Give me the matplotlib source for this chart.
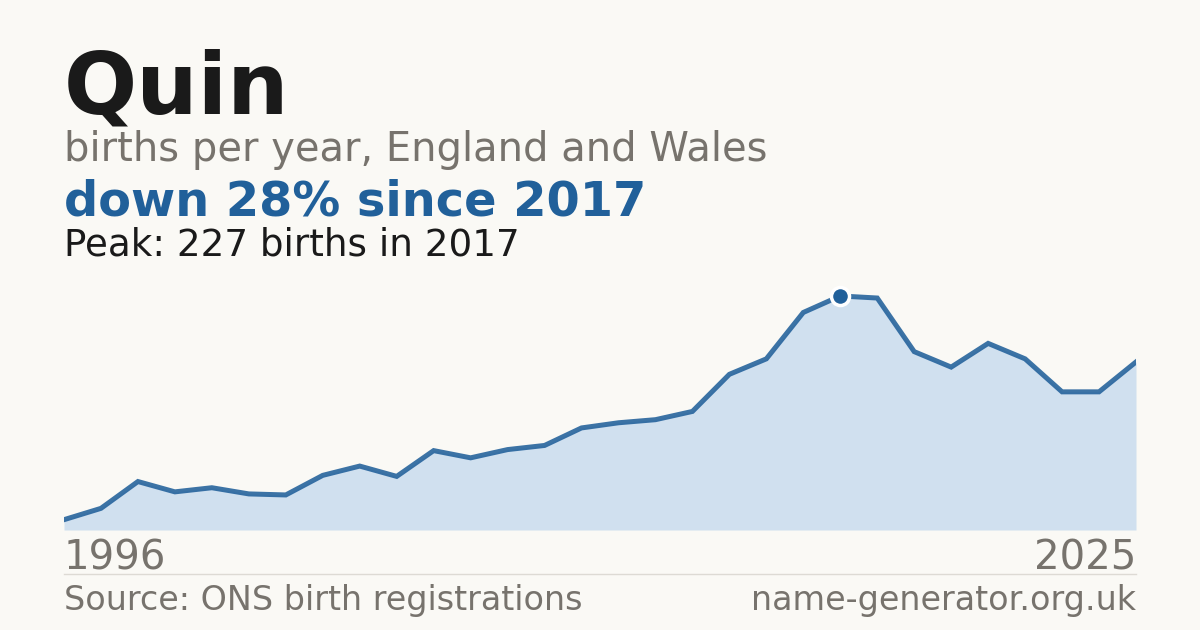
import numpy as np
import matplotlib.pyplot as plt

# births per year for "Quin", England and Wales
years = list(range(1996, 2026))
births = [10, 21, 47, 37, 41, 35, 34, 53, 62, 52,
          77, 70, 78, 82, 99, 104, 107, 115, 151, 166,
          211, 227, 225, 173, 158, 181, 166, 134, 134, 163]

peak_year = 2017
peak_value = 227

bg = '#faf9f5'
blue = '#21609a'
fill = '#d0e0ef'
grey = '#77736d'

fig = plt.figure(figsize=(12, 6.3), dpi=100, facecolor=bg)

# plot area: x 64..1136 px, y 270..530 px
ax = fig.add_axes([64 / 1200, 1 - 530 / 630, 1072 / 1200, 260 / 630])
ax.set_facecolor(bg)
ax.fill_between(years, births, 0, color=fill, lw=0)
ax.plot(years, births, color=blue, lw=3.6, solid_joinstyle='miter', alpha=0.88)
ax.plot([peak_year], [peak_value], 'o', ms=13, color=blue,
        markeredgecolor='white', markeredgewidth=2.5, zorder=5)
ax.set_xlim(years[0], years[-1])
ax.set_ylim(0, 260 / 1.031)
ax.axis('off')

# texts
fig.text(64 / 1200, 1 - 113 / 630, 'Quin', fontsize=62, fontweight='bold',
         color='#1a1a1a', ha='left', va='baseline')
fig.text(64 / 1200, 1 - 161 / 630, 'births per year, England and Wales',
         fontsize=28.8, color=grey, ha='left', va='baseline')
fig.text(64 / 1200, 1 - 215 / 630, 'down 28% since 2017', fontsize=34.5,
         fontweight='bold', color=blue, ha='left', va='baseline')
fig.text(64 / 1200, 1 - 255 / 630, 'Peak: 227 births in 2017', fontsize=26.8,
         color='#1a1a1a', ha='left', va='baseline')

fig.text(64 / 1200, 1 - 570 / 630, str(years[0]), fontsize=29, color=grey,
         ha='left', va='baseline')
fig.text(1136 / 1200, 1 - 570 / 630, str(years[-1]), fontsize=29, color=grey,
         ha='right', va='baseline')

fig.add_artist(plt.Line2D([64 / 1200, 1136 / 1200], [1 - 574 / 630, 1 - 574 / 630],
                          color='#dddad4', lw=1))

fig.text(64 / 1200, 1 - 610 / 630, 'Source: ONS birth registrations', fontsize=24,
         color=grey, ha='left', va='baseline')
fig.text(1136 / 1200, 1 - 610 / 630, 'name-generator.org.uk', fontsize=24,
         color=grey, ha='right', va='baseline')

fig.savefig('out.png', dpi=100, facecolor=bg)
